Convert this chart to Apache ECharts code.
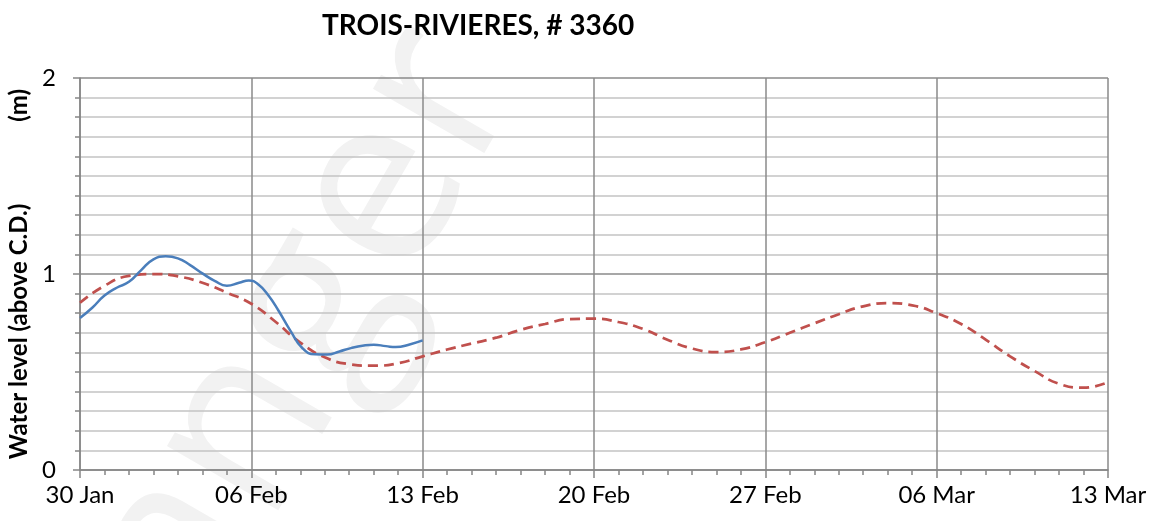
<!DOCTYPE html>
<html>
<head>
<meta charset="utf-8">
<script src="https://cdn.jsdelivr.net/npm/echarts@6/dist/echarts.min.js"></script>
<style>
html,body{margin:0;padding:0;background:#fff;}
#chart{width:1149px;height:521px;}
</style>
</head>
<body>
<div id="chart"></div>
<script>
// Tick labels of the weekly x-axis (day offsets 0,7,...,42 from 30 Jan)
const xLabels = ['30 Jan', '06 Feb', '13 Feb', '20 Feb', '27 Feb', '06 Mar', '13 Mar'];

// Predicted water level (red dashed), one value per day from 30 Jan
const predDays = [0,1,2,3,4,5,6,7,8,9,10,11,12,13,14,15,16,17,18,19,20,21,22,23,24,25,26,27,28,29,30,31,32,33,34,35,36,37,38,39,40,41,42];
const predicted = [0.853,0.94,0.99,1.0,0.988,0.955,0.905,0.848,0.755,0.65,0.575,0.54,0.532,0.545,0.58,
  0.615,0.645,0.675,0.715,0.745,0.77,0.772,0.755,0.72,0.665,0.62,0.602,0.615,0.652,0.70,0.748,0.795,
  0.835,0.851,0.84,0.80,0.745,0.665,0.58,0.505,0.44,0.42,0.448];

// Observed water level (blue solid), day offsets from 30 Jan
const obsDays = [0,0.5,1,1.5,2,2.5,3,3.5,4,4.5,5,5.5,6,6.5,6.9,7.3,7.7,8.1,8.6,9.1,9.6,10.1,10.6,11.1,11.6,12.0,12.5,12.9,13.5,14];
const observed = [0.776,0.828,0.89,0.93,0.96,1.02,1.075,1.09,1.08,1.045,1.003,0.965,0.94,0.955,0.967,0.945,0.89,0.815,0.71,0.62,0.59,0.589,0.605,0.623,0.635,0.639,0.632,0.627,0.642,0.661];

const yTicks = [0, 1, 2];

const chart = echarts.init(document.getElementById('chart'), null, {renderer: 'canvas'});
const predData = predDays.map((d, i) => [d, predicted[i]]);
const obsData = obsDays.map((d, i) => [d, observed[i]]);

const ang = 60 * Math.PI / 180;
chart.setOption({
  animation: false,
  backgroundColor: '#ffffff',
  title: {
    text: 'TROIS-RIVIERES, # 3360',
    left: 317, top: 7,
    textStyle: {fontFamily: 'Lato', fontWeight: 'bold', fontSize: 28, color: '#000'}
  },
  graphic: [{
    type: 'text',
    z: -10,
    x: 55, y: 760,
    rotation: ang,
    style: {
      text: 'Danger',
      fontFamily: 'Open Sans',
      fontWeight: 'normal',
      fontSize: 240,
      fill: '#f2f2f2',
      textAlign: 'left',
      textVerticalAlign: 'middle'
    }
  }],
  grid: {left: 80, right: 41, top: 78, bottom: 51, containLabel: false, outerBoundsMode: 'none'},
  xAxis: {
    type: 'value',
    min: 0, max: 42, interval: 7,
    axisLine: {show: true, onZero: false, lineStyle: {color: '#868686', width: 1.5}},
    axisTick: {show: true, length: 8, lineStyle: {color: '#868686', width: 1.5}},
    minorTick: {show: true, splitNumber: 7, length: 5, lineStyle: {color: '#868686', width: 1.5}},
    axisLabel: {
      formatter: v => xLabels[Math.round(v / 7)],
      fontFamily: 'Lato', fontSize: 24, color: '#000', margin: 13
    },
    splitLine: {show: true, lineStyle: {color: '#8a8a8a', width: 1.5}}
  },
  yAxis: {
    type: 'value',
    min: yTicks[0], max: yTicks[yTicks.length - 1], interval: 1,
    axisLine: {show: true, lineStyle: {color: '#868686', width: 1.5}},
    axisTick: {show: true, length: 7, lineStyle: {color: '#868686', width: 1.5}},
    minorTick: {show: true, splitNumber: 10, length: 5, lineStyle: {color: '#868686', width: 1.5}},
    axisLabel: {fontFamily: 'Lato', fontSize: 24, color: '#000', margin: 24},
    splitLine: {show: true, lineStyle: {color: '#8a8a8a', width: 1.5}},
    minorSplitLine: {show: true, lineStyle: {color: '#c4c4c4', width: 1.5}},
    name: '{a|Water level (above C.D.)}{gap| }{a|(m)}',
    nameLocation: 'middle',
    nameRotate: 90,
    nameGap: 47,
    nameTextStyle: {
      rich: {
        a: {fontFamily: 'Lato', fontWeight: 'bold', fontSize: 24, color: '#000'},
        gap: {width: 82, fontSize: 24}
      }
    }
  },
  series: [
    {
      name: 'Predicted', type: 'line', data: predData, smooth: true, showSymbol: false,
      lineStyle: {color: '#C0504D', width: 2.75, type: [10, 6]}, z: 3
    },
    {
      name: 'Observed', type: 'line', data: obsData, smooth: true, showSymbol: false,
      lineStyle: {color: '#4A7EBB', width: 2.5}, z: 4
    }
  ]
});
</script>
</body>
</html>
